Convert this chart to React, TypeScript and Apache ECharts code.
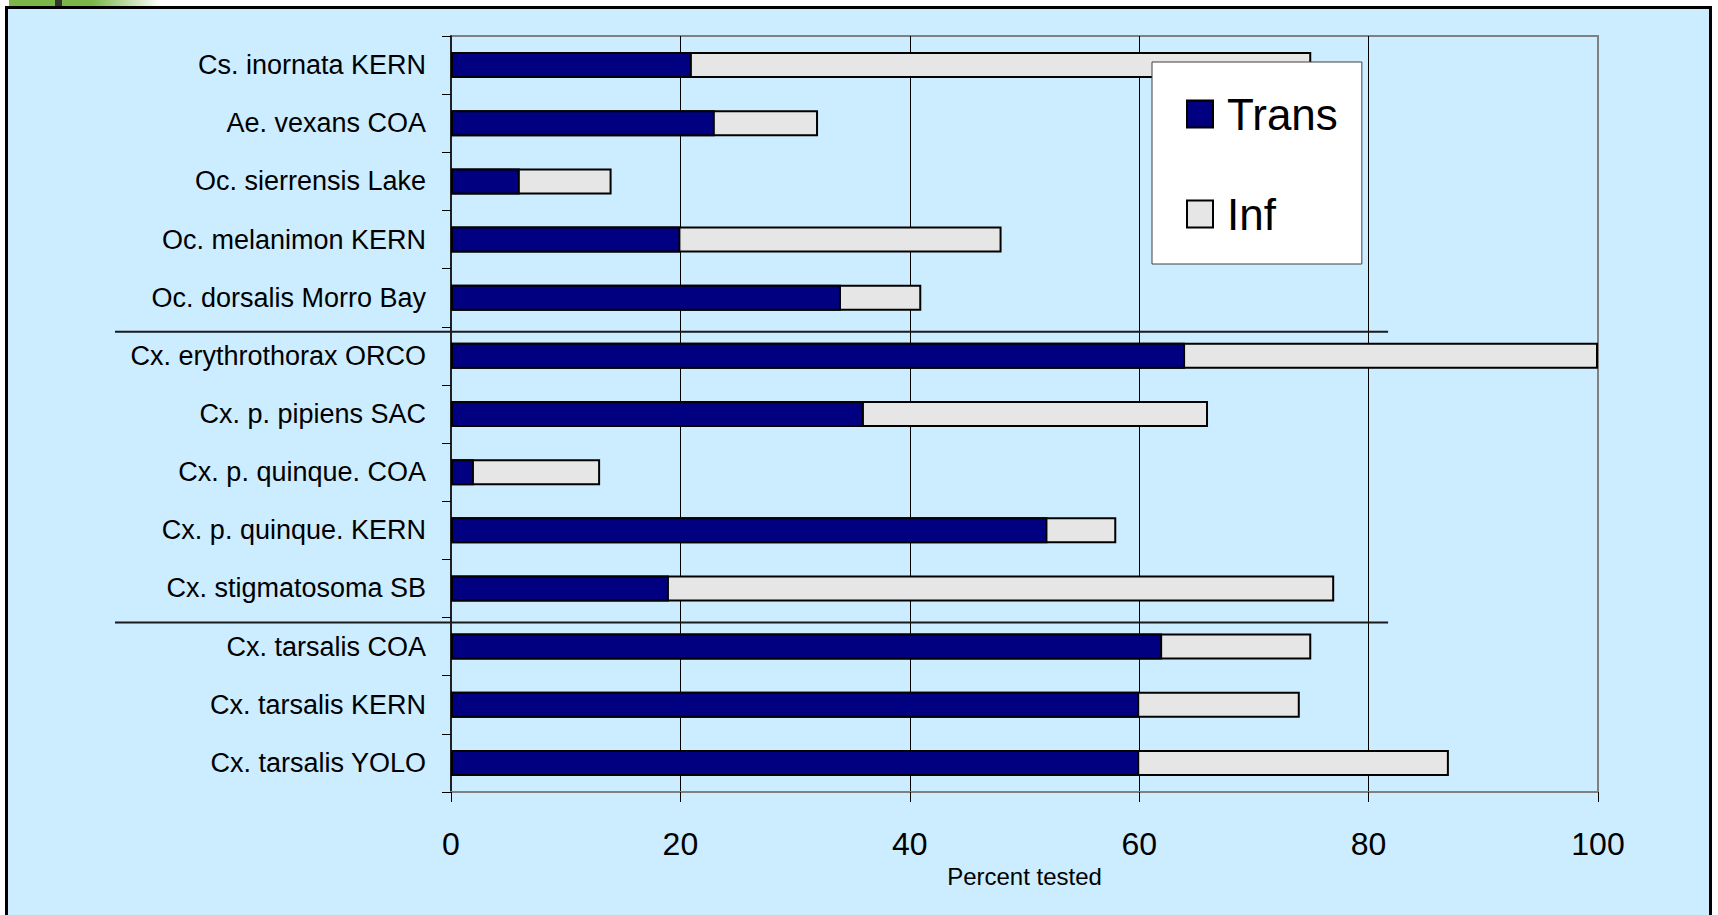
import React, { useEffect, useRef } from 'react';
import * as echarts from 'echarts';

const categories = [
  'Cs. inornata KERN',
  'Ae. vexans COA',
  'Oc. sierrensis Lake',
  'Oc. melanimon KERN',
  'Oc. dorsalis Morro Bay',
  'Cx. erythrothorax ORCO',
  'Cx. p. pipiens SAC',
  'Cx. p. quinque. COA',
  'Cx. p. quinque. KERN',
  'Cx. stigmatosoma SB',
  'Cx. tarsalis COA',
  'Cx. tarsalis KERN',
  'Cx. tarsalis YOLO',
];
const transValues = [21, 23, 6, 20, 34, 64, 36, 2, 52, 19, 62, 60, 60];
const infValues = [75, 32, 14, 48, 41, 100, 66, 13, 58, 77, 75, 74, 87];
const xMin = 0;
const xMax = 100;
const xInterval = 20;
const seriesNames = ['Trans', 'Inf'];
const axisTitle = 'Percent tested';
const separatorAfter = [4, 9];
const separatorEndValue = 81.7;

const FONT = '"Liberation Sans", Arial, sans-serif';

export default function App() {
  const ref = useRef<HTMLDivElement>(null);

  useEffect(() => {
    const chart = echarts.init(ref.current!, null, { renderer: 'svg' });
    chart.setOption({
      animation: false,
      backgroundColor: 'transparent',
      textStyle: { fontFamily: FONT, color: '#000' },
      grid: {
        left: 451,
        right: 120,
        top: 36,
        bottom: 123,
        show: true,
        borderColor: '#808080',
        borderWidth: 2,
        backgroundColor: 'transparent',
      },
      legend: {
        data: seriesNames,
        orient: 'vertical',
        left: 1152,
        top: 62,
        icon: 'rect',
        itemWidth: 26,
        itemHeight: 27,
        itemGap: 56,
        padding: [30, 24, 28, 34],
        backgroundColor: '#ffffff',
        borderColor: '#404040',
        borderWidth: 1,
        textStyle: {
          fontFamily: FONT,
          fontSize: 44,
          lineHeight: 44,
          color: '#000',
          padding: [0, 0, 0, 9],
        },
        z: 20,
      },
      xAxis: {
        type: 'value',
        min: xMin,
        max: xMax,
        interval: xInterval,
        name: axisTitle,
        nameLocation: 'middle',
        nameGap: 72,
        nameTextStyle: { fontFamily: FONT, fontSize: 24, color: '#000' },
        axisLine: { show: true, lineStyle: { color: '#808080', width: 2 } },
        axisTick: { show: true, length: 10, lineStyle: { color: '#000', width: 1 } },
        axisLabel: {
          fontFamily: FONT,
          fontSize: 32,
          lineHeight: 32,
          color: '#000',
          margin: 36,
        },
        splitLine: {
          show: true,
          showMinLine: false,
          showMaxLine: false,
          lineStyle: { color: '#000', width: 1 },
        },
      },
      yAxis: {
        type: 'category',
        data: categories,
        inverse: true,
        axisLine: { show: true, lineStyle: { color: '#000', width: 1.5 } },
        axisTick: { show: true, length: 9, lineStyle: { color: '#000', width: 1 } },
        axisLabel: {
          fontFamily: FONT,
          fontSize: 27,
          color: '#000',
          margin: 25,
          padding: [0, 0, 6, 0],
        },
        splitLine: { show: false },
      },
      series: [
        {
          name: seriesNames[1],
          type: 'bar',
          data: infValues,
          barWidth: 26,
          barGap: '-100%',
          itemStyle: { color: '#e6e6e6', borderColor: '#000', borderWidth: 2 },
          z: 2,
        },
        {
          name: seriesNames[0],
          type: 'bar',
          data: transValues,
          barWidth: 26,
          barGap: '-100%',
          itemStyle: { color: '#000080', borderColor: '#000', borderWidth: 2 },
          z: 3,
        },
      ],
    });

    const x2 = chart.convertToPixel({ xAxisIndex: 0 }, separatorEndValue) as number;
    const seps = separatorAfter.map((i) => {
      const ya = chart.convertToPixel({ yAxisIndex: 0 }, i) as number;
      const yb = chart.convertToPixel({ yAxisIndex: 0 }, i + 1) as number;
      const y = (ya + yb) / 2 + 5;
      return {
        type: 'line',
        shape: { x1: 115, y1: y, x2, y2: y },
        style: { stroke: '#1a1a1a', lineWidth: 2 },
        z: 100,
      };
    });
    chart.setOption({ graphic: seps });

    return () => chart.dispose();
  }, []);

  return (
    <div
      style={{
        position: 'absolute',
        left: 0,
        top: 0,
        width: 1718,
        height: 915,
        overflow: 'hidden',
        background: '#ffffff',
      }}
    >
      <div
        style={{
          position: 'absolute',
          left: 9,
          top: 0,
          width: 151,
          height: 6,
          background: 'linear-gradient(to right, #7ab648 0%, #7ab648 55%, #ffffff 100%)',
        }}
      />
      <div style={{ position: 'absolute', left: 55, top: 0, width: 7, height: 6, background: '#333' }} />
      <div
        style={{
          position: 'absolute',
          left: 5,
          top: 6,
          width: 1707,
          height: 1000,
          boxSizing: 'border-box',
          border: '3px solid #000',
          background: '#CCECFF',
        }}
      />
      <div ref={ref} style={{ position: 'absolute', left: 0, top: 0, width: 1718, height: 915 }} />
    </div>
  );
}
